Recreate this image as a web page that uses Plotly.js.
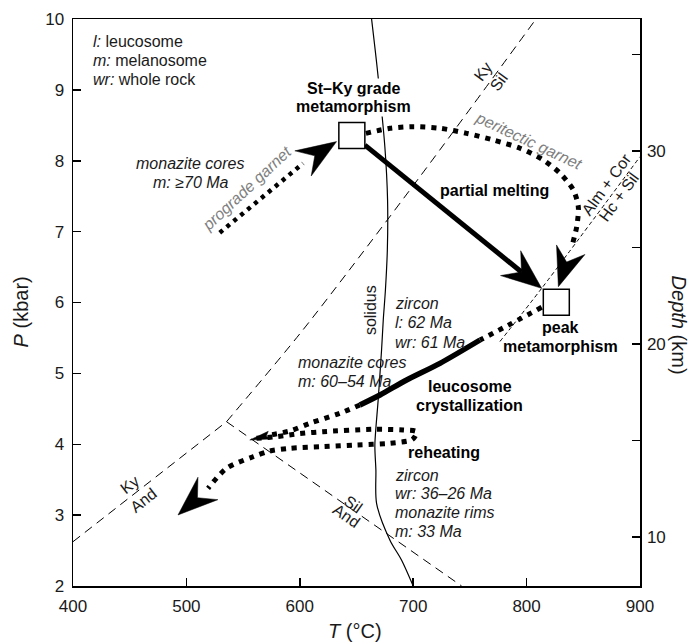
<!DOCTYPE html>
<html>
<head>
<meta charset="utf-8">
<script src="https://cdn.plot.ly/plotly-3.0.1.min.js"></script>
<style>
  html, body { margin: 0; padding: 0; background: #fff; }
  #chart { width: 695px; height: 644px; }
</style>
</head>
<body>
<div id="chart"></div>
<script>
// ---- axes ----
const tRange = [400, 900];            // T (°C)
const pRange = [2, 10];               // P (kbar)
const tTicks = [400, 500, 600, 700, 800, 900];
const pTicks = [2, 3, 4, 5, 6, 7, 8, 9, 10];
const depthRange = [7.455, 36.85];    // Depth (km), right axis
const depthTicks = [10, 15, 20, 25, 30, 35];
const depthLabels = ['10', '', '20', '', '30', ''];

// ---- reaction curves ----
const solidusT = [663.3, 668.6, 675.0, 677.4, 677.2, 675.5, 673.6, 672.1, 669.1, 666.2, 667.1, 667.7, 679.5, 689.8, 700.0];
const solidusP = [10.0, 9.256, 8.198, 7.446, 6.74, 6.176, 5.753, 5.330, 4.624, 3.99, 3.637, 3.167, 2.646, 2.364, 2.0];
const kySilT = [535.4, 602.7, 705.9, 808.3];
const kySilP = [4.318, 5.612, 7.775, 10.0];
const kyAndT = [400, 535.4];
const kyAndP = [2.625, 4.318];
const silAndT = [535.4, 742.7];
const silAndP = [4.318, 2.0];
const almCorT = [776.5, 813.3, 900];
const almCorP = [5.45, 6.20, 8.057];

// ---- P–T path segments (last point of an arrowed segment is the arrow tip) ----
const progradeT = [529.4, 602.9, 632.4];
const progradeP = [6.985, 7.963, 8.27];
const meltingT = [657.4, 813.3];
const meltingP = [8.22, 6.20];
const peritecticT = [658.3, 679.5, 700.0, 723.6, 747.1, 770.6, 794.2, 814.7, 829.5, 841.2, 845.6, 844.2, 839.8, 828.0];
const peritecticP = [8.387, 8.458, 8.481, 8.458, 8.387, 8.293, 8.176, 8.011, 7.823, 7.587, 7.352, 7.070, 6.787, 6.223];
const coolingT = [813.3, 779.2, 758.9];
const coolingP = [5.932, 5.640, 5.471];
const crystT = [758.9, 723.6, 694.2, 670.7, 653.0];
const crystP = [5.471, 5.142, 4.907, 4.695, 4.554];
const postCrystT = [653.0, 635.3, 608.9, 591.2, 573.6, 555.9];
const postCrystP = [4.554, 4.437, 4.296, 4.187, 4.13, 4.060];
const reheatT = [561.8, 579.5, 600.0, 620.6, 664.7, 691.2, 703.0, 701.5, 698.6, 679.5, 650.1, 620.6, 591.2, 573.6, 558.8, 535.4, 519.1, 492.6];
const reheatP = [4.084, 4.107, 4.150, 4.177, 4.211, 4.201, 4.177, 4.107, 4.060, 4.013, 3.990, 3.966, 3.943, 3.905, 3.824, 3.660, 3.378, 3.002];

// ---- metamorphic stages (boxes) ----
const stageT = [645.9, 826.2];
const stageP = [8.356, 6.004];

// ---- plot geometry ----
const W = 695, H = 644;
const M = { l: 73, r: 55, t: 19, b: 58 };
const pxPerT = (W - M.l - M.r) / (tRange[1] - tRange[0]);
const pxPerP = (H - M.t - M.b) / (pRange[1] - pRange[0]);

const BLACK = '#000';
const traces = [];

function line(x, y, width, dash, shape) {
  return {
    x: x, y: y, mode: 'lines', hoverinfo: 'skip', showlegend: false,
    line: { color: BLACK, width: width, dash: dash || 'solid', shape: shape || 'linear', smoothing: 0.8 }
  };
}

// Filled barbed arrowhead pointing from (tailT, tailP) to (tipT, tipP); sizes in px
function arrowHead(tailT, tailP, tipT, tipP, len, half, notch) {
  const dx = (tipT - tailT) * pxPerT, dy = (tipP - tailP) * pxPerP;
  const d = Math.hypot(dx, dy), ux = dx / d, uy = dy / d;
  const nx = -uy, ny = ux;
  const local = [[0, 0], [-len, half], [-(len - notch), 0], [-len, -half], [0, 0]];
  const x = [], y = [];
  local.forEach(([a, b]) => {
    x.push(tipT + (a * ux + b * nx) / pxPerT);
    y.push(tipP + (a * uy + b * ny) / pxPerP);
  });
  return {
    x: x, y: y, mode: 'lines', fill: 'toself', fillcolor: BLACK,
    line: { color: BLACK, width: 0.5 }, hoverinfo: 'skip', showlegend: false
  };
}

// Point set back from the tip along the final direction (where the shaft meets the head)
function backOff(tailT, tailP, tipT, tipP, px) {
  const dx = (tipT - tailT) * pxPerT, dy = (tipP - tailP) * pxPerP;
  const d = Math.hypot(dx, dy);
  return [tipT - dx / d * px / pxPerT, tipP - dy / d * px / pxPerP];
}

// Dotted path whose last point is the arrow tip
function dottedArrow(T, P, width, dash, len, half, notch) {
  const n = T.length;
  traces.push(line(T.slice(0, n - 1), P.slice(0, n - 1), width, dash, 'spline'));
  traces.push(arrowHead(T[n - 2], P[n - 2], T[n - 1], P[n - 1], len, half, notch));
}

// reaction curves
traces.push(line(kySilT, kySilP, 1, '9px,6px', 'spline'));
traces.push(line(kyAndT, kyAndP, 1, '9px,6px'));
traces.push(line(silAndT, silAndP, 1, '9px,6px'));
traces.push(line(almCorT, almCorP, 1, '4px,3px', 'spline'));
traces.push(line(solidusT, solidusP, 1.2, 'solid', 'spline'));

// prograde path
dottedArrow(progradeT, progradeP, 4.5, '4px,5px', 40, 15, 14);

// partial melting (solid arrow)
{
  const end = backOff(meltingT[0], meltingP[0], meltingT[1], meltingP[1], 26);
  traces.push(line([meltingT[0], end[0]], [meltingP[0], end[1]], 5));
  traces.push(arrowHead(meltingT[0], meltingP[0], meltingT[1], meltingP[1], 40, 16, 14));
}

// peritectic garnet loop
dottedArrow(peritecticT, peritecticP, 5, '5px,6px', 39, 15, 13);

// retrograde: cooling, leucosome crystallization, continued cooling
traces.push(line(coolingT, coolingP, 5, '5px,6px', 'spline'));
traces.push(line(crystT, crystP, 5.5, 'solid', 'spline'));
dottedArrow(postCrystT, postCrystP, 5, '5px,6px', 20, 4, 3);

// reheating loop
dottedArrow(reheatT, reheatP, 5, '5px,6px', 40, 15, 14);

// stage boxes
traces.push({
  x: stageT, y: stageP, mode: 'markers', hoverinfo: 'skip', showlegend: false,
  marker: { symbol: 'square', size: 26, color: '#fff', line: { color: BLACK, width: 1.5 } }
});

// right-hand depth axis
traces.push({ x: [], y: [], yaxis: 'y2', mode: 'markers', showlegend: false, hoverinfo: 'skip' });

// ---- labels ----
const FONT = 'Liberation Sans, Arial, Helvetica, sans-serif';
const annotations = [];

function label(text, x, y, opts) {
  opts = opts || {};
  const a = {
    text: text, x: x, y: y, xref: 'x', yref: 'y', showarrow: false,
    xanchor: opts.xanchor || 'center', yanchor: 'middle',
    textangle: opts.angle || 0, yshift: opts.yshift || 0,
    font: { family: FONT, size: opts.size || 16, color: opts.color || '#1a1a1a' }
  };
  if (opts.bg) a.bgcolor = opts.bg;
  annotations.push(a);
}
function block(lines, x, y, spacing, opts) {
  lines.forEach((t, i) => label(t, x, y, Object.assign({}, opts, { yshift: -i * spacing })));
}

block(['<i>l:</i> leucosome', '<i>m:</i> melanosome', '<i>wr:</i> whole rock'], 416.2, 9.68, 18.7, { xanchor: 'left' });
block(['<b>St–Ky grade</b>', '<b>metamorphism</b>'], 647.6, 9.025, 18.4, { color: BLACK, bg: '#fff' });
block(['<i>monazite cores</i>', '<i>m: ≥70 Ma</i>'], 503.7, 7.968, 19.7, {});
label('<i>prograde garnet</i>', 553.0, 7.611, { angle: -43, color: '#808080' });
label('<i>peritectic garnet</i>', 801.5, 8.281, { angle: 25, color: '#808080' });
label('<b>partial melting</b>', 772.1, 7.587, { color: BLACK });
label('Ky', 761.8, 9.256, { angle: -54 });
label('Sil', 775.9, 9.115, { angle: -54 });
label('Alm + Cor', 870.6, 7.658, { angle: -54 });
label('Hc + Sil', 881.8, 7.493, { angle: -54 });
label('solidus', 662.0, 5.894, { angle: -90 });
block(['<i>zircon</i>', '<i>l: 62 Ma</i>', '<i>wr: 61 Ma</i>'], 681.8, 5.989, 19.7, { xanchor: 'left' });
block(['<b>peak</b>', '<b>metamorphism</b>'], 829.5, 5.647, 19, { color: BLACK });
block(['<i>monazite cores</i>', '<i>m: 60–54 Ma</i>'], 596.5, 5.151, 19, { xanchor: 'left' });
block(['<b>leucosome</b>', '<b>crystallization</b>'], 750.0, 4.812, 18.3, { color: BLACK });
label('<b>reheating</b>', 727.5, 3.881, { color: BLACK });
block(['<i>zircon</i>', '<i>wr: 36–26 Ma</i>', '<i>monazite rims</i>', '<i>m: 33 Ma</i>'], 681.8, 3.566, 18.9, { xanchor: 'left' });
label('Ky', 450.1, 3.439, { angle: -38 });
label('And', 461.8, 3.213, { angle: -38 });
label('Sil', 647.1, 3.143, { angle: 35 });
label('And', 640.6, 2.988, { angle: 35 });

// axis titles
function title(text, x, y, angle) {
  annotations.push({
    text: text, x: x, y: y, xref: 'paper', yref: 'paper', showarrow: false,
    xanchor: 'center', yanchor: 'middle', textangle: angle,
    font: { family: FONT, size: 20, color: '#1a1a1a' }
  });
}
title('<i>P</i> (kbar)', -0.092, 0.484, -90);
title('<i>T</i> (°C)', 0.498, -0.079, 0);
title('<i>Depth</i> (km)', 1.068, 0.460, 90);

const axisCommon = {
  showgrid: false, zeroline: false, showline: true, linecolor: BLACK, linewidth: 1.5,
  ticks: 'inside', ticklen: 8, tickwidth: 1.5, tickcolor: BLACK,
  tickfont: { family: FONT, size: 17, color: '#1a1a1a' }
};

const layout = {
  width: W, height: H, margin: M,
  paper_bgcolor: '#fff', plot_bgcolor: '#fff',
  font: { family: FONT },
  showlegend: false,
  xaxis: Object.assign({}, axisCommon, { range: tRange, tickvals: tTicks, mirror: true, ticklabelstandoff: 4 }),
  yaxis: Object.assign({}, axisCommon, { range: pRange, tickvals: pTicks, ticklabelstandoff: 4 }),
  yaxis2: Object.assign({}, axisCommon, {
    range: depthRange, tickvals: depthTicks, ticktext: depthLabels,
    overlaying: 'y', side: 'right', ticklabelstandoff: 2
  }),
  annotations: annotations
};

Plotly.newPlot('chart', traces, layout, { displayModeBar: false, staticPlot: true });
</script>
</body>
</html>
